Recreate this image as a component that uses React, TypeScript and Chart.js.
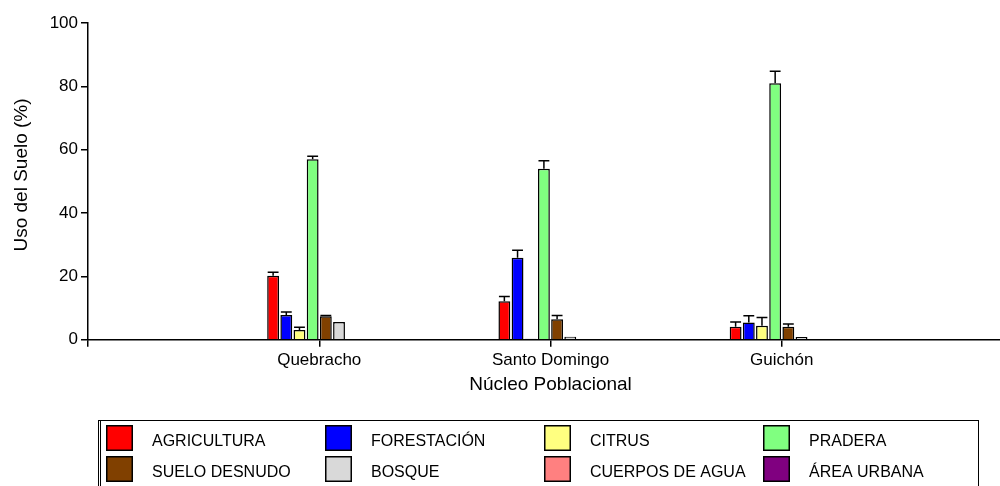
import React, { useEffect, useRef } from "react";
import { Chart, registerables } from "chart.js";

Chart.register(...registerables);

const categories = ["Quebracho", "Santo Domingo", "Guichón"];
const seriesNames = [
  "AGRICULTURA",
  "FORESTACIÓN",
  "CITRUS",
  "PRADERA",
  "SUELO DESNUDO",
  "BOSQUE",
  "CUERPOS DE AGUA",
  "ÁREA URBANA",
];
const seriesColors = [
  "#ff0000",
  "#0000ff",
  "#ffff80",
  "#80ff80",
  "#804000",
  "#d9d9d9",
  "#ff8080",
  "#800080",
];
const agricultura = [20.2, 12.2, 4.1];
const agriculturaErr = [1.1, 1.5, 1.5];
const forestacion = [7.8, 25.9, 5.5];
const forestacionErr = [1.0, 2.4, 2.1];
const citrus = [3.1, 0.3, 4.4];
const citrusErr = [0.9, 0, 2.6];
const pradera = [57.0, 54.0, 81.0];
const praderaErr = [0.9, 2.5, 3.8];
const sueloDesnudo = [7.4, 6.5, 4.1];
const sueloDesnudoErr = [0.3, 1.2, 0.9];
const bosque = [5.6, 1.0, 0.9];
const bosqueErr = [0, 0, 0];
const cuerposDeAgua = [0, 0, 0];
const cuerposDeAguaErr = [0, 0, 0];
const areaUrbana = [0, 0, 0];
const areaUrbanaErr = [0, 0, 0];
const yTicks = [0, 20, 40, 60, 80, 100];
const yTitle = "Uso del Suelo (%)";
const xTitle = "Núcleo Poblacional";

const seriesValues = [agricultura, forestacion, citrus, pradera, sueloDesnudo, bosque, cuerposDeAgua, areaUrbana];
const seriesErrors = [agriculturaErr, forestacionErr, citrusErr, praderaErr, sueloDesnudoErr, bosqueErr, cuerposDeAguaErr, areaUrbanaErr];

const FONT = "'Liberation Sans', Arial, sans-serif";

const errorBarPlugin = {
  id: "errorBars",
  afterDatasetsDraw(chart: any) {
    const ctx = chart.ctx;
    const yScale = chart.scales.y;
    ctx.save();
    ctx.strokeStyle = "#000";
    ctx.lineWidth = 1.5;
    chart.data.datasets.forEach((ds: any, di: number) => {
      const meta = chart.getDatasetMeta(di);
      meta.data.forEach((el: any, i: number) => {
        const v = ds.data[i];
        const e = ds.errors ? ds.errors[i] : null;
        if (v == null || !e) return;
        const yTop = yScale.getPixelForValue(v + e);
        const yv = yScale.getPixelForValue(v);
        const half = el.width / 2 - 0.5;
        ctx.beginPath();
        ctx.moveTo(el.x, yv);
        ctx.lineTo(el.x, yTop);
        ctx.moveTo(el.x - half, yTop);
        ctx.lineTo(el.x + half, yTop);
        ctx.stroke();
      });
    });
    ctx.restore();
  },
};

const yTitlePlugin = {
  id: "yTitle",
  afterDraw(chart: any) {
    const ctx = chart.ctx;
    ctx.save();
    ctx.translate(27, 175);
    ctx.rotate(-Math.PI / 2);
    ctx.font = `19px ${FONT}`;
    ctx.fillStyle = "#000";
    ctx.textAlign = "center";
    ctx.textBaseline = "alphabetic";
    ctx.fillText(yTitle, 0, 0);
    ctx.restore();
  },
};

const legendPlugin = {
  id: "boxLegend",
  afterDraw(chart: any) {
    const ctx = chart.ctx;
    ctx.save();
    ctx.strokeStyle = "#000";
    ctx.lineWidth = 1;
    ctx.strokeRect(98.5, 420.5, 880, 80);
    ctx.beginPath();
    ctx.moveTo(100.5, 420.5);
    ctx.lineTo(100.5, 500);
    ctx.stroke();
    const colX = [106, 325, 544, 763];
    const rowY = [425, 456];
    ctx.font = `16px ${FONT}`;
    ctx.textBaseline = "alphabetic";
    ctx.textAlign = "left";
    seriesNames.forEach((name, i) => {
      const c = i % 4;
      const r = Math.floor(i / 4);
      const x = colX[c];
      const y = rowY[r];
      ctx.fillStyle = seriesColors[i];
      ctx.fillRect(x, y, 27, 26);
      ctx.lineWidth = 1.5;
      ctx.strokeStyle = "#000";
      ctx.strokeRect(x + 0.75, y + 0.75, 25.5, 24.5);
      ctx.fillStyle = "#000";
      ctx.fillText(name, colX[c] + 46, y + 21);
    });
    ctx.restore();
  },
};

export default function App() {
  const ref = useRef<HTMLCanvasElement>(null);
  useEffect(() => {
    document.body.style.margin = "0";
    const labels = ["", ...categories, ""];
    const datasets = seriesNames.map((name, i) => ({
      label: name,
      data: [null, ...seriesValues[i], null],
      errors: [null, ...seriesErrors[i], null],
      backgroundColor: seriesColors[i],
      borderColor: "#000",
      borderWidth: 1.5,
      categoryPercentage: 0.456,
      barPercentage: 0.9,
    }));
    const chart = new Chart(ref.current!, {
      type: "bar",
      data: { labels, datasets } as any,
      plugins: [errorBarPlugin, yTitlePlugin, legendPlugin],
      options: {
        animation: false,
        responsive: false,
        maintainAspectRatio: false,
        layout: { padding: { top: 23, left: 0, right: 0, bottom: 86 } },
        plugins: { legend: { display: false }, tooltip: { enabled: false } },
        scales: {
          x: {
            type: "category",
            offset: false,
            grid: {
              offset: false,
              drawOnChartArea: false,
              drawTicks: true,
              tickLength: 7,
              lineWidth: 1.5,
              color: "#000",
              tickColor: "#000",
            },
            border: { color: "#000", width: 1.5 },
            ticks: { color: "#000", font: { family: FONT, size: 17 }, padding: 3, maxRotation: 0, autoSkip: false },
            title: { display: true, text: xTitle, color: "#000", font: { family: FONT, size: 19 }, padding: { top: 0 } },
          },
          y: {
            min: 0,
            max: 100,
            afterBuildTicks: (s: any) => {
              s.ticks = yTicks.map((v) => ({ value: v }));
            },
            afterFit: (s: any) => {
              s.width = 88;
            },
            grid: { drawOnChartArea: false, drawTicks: true, tickLength: 7, lineWidth: 1.5, color: "#000" },
            border: { color: "#000", width: 1.5 },
            ticks: { color: "#000", font: { family: FONT, size: 17 }, padding: 3 },
          },
        },
      } as any,
    });
    return () => chart.destroy();
  }, []);
  return (
    <div style={{ width: 1000, height: 486, overflow: "hidden", background: "#fff" }}>
      <canvas ref={ref} width={1016} height={486} style={{ display: "block" }} />
    </div>
  );
}
